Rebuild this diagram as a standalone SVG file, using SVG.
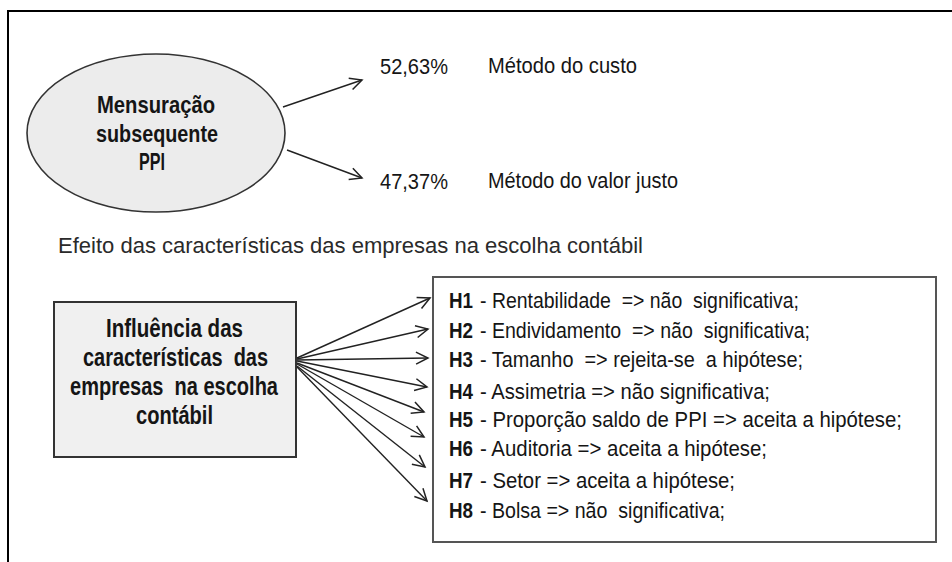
<svg xmlns="http://www.w3.org/2000/svg" width="952" height="562" viewBox="0 0 952 562">
<style>
text{font-family:"Liberation Sans Narrow","Liberation Sans",Arial,sans-serif;fill:#151515}
.b{font-weight:bold}
.r{font-size:22px}
.c{stroke:#222;stroke-width:1.4;fill:none}
</style>
<defs>
<marker id="ah" markerUnits="userSpaceOnUse" markerWidth="16" markerHeight="16" refX="13" refY="7" orient="auto" viewBox="0 0 16 14">
<path d="M1,1 L13,7 L1,13" fill="none" stroke="#222" stroke-width="1.5"/>
</marker>
</defs>
<rect width="952" height="562" fill="#fff"/>
<path d="M8,562 L8,11 L952,11" fill="none" stroke="#000" stroke-width="2"/>
<g id="ellipse-node">
<ellipse cx="156" cy="133" rx="129" ry="79" fill="#ececec" stroke="#333" stroke-width="1.6"/>
<text class="b" font-size="24" x="97" y="113" textLength="118" lengthAdjust="spacingAndGlyphs">Mensuração</text>
<text class="b" font-size="24" x="96" y="142" textLength="122" lengthAdjust="spacingAndGlyphs">subsequente</text>
<text class="b" font-size="24" x="139" y="170" textLength="26" lengthAdjust="spacingAndGlyphs">PPI</text>
</g>
<g id="label-custo">
<text class="r" font-size="24" x="380" y="74" textLength="68" lengthAdjust="spacingAndGlyphs">52,63%</text>
<text class="r" font-size="23" x="488" y="73" textLength="149" lengthAdjust="spacingAndGlyphs">Método do custo</text>
</g>
<g id="label-valor">
<text class="r" font-size="24" x="380" y="189" textLength="68" lengthAdjust="spacingAndGlyphs">47,37%</text>
<text class="r" font-size="23" x="488" y="188" textLength="190" lengthAdjust="spacingAndGlyphs">Método do valor justo</text>
</g>
<g id="title">
<text class="r" font-size="21" x="58" y="253" textLength="585" lengthAdjust="spacingAndGlyphs" style="fill:#2a2a2a">Efeito das características das empresas na escolha contábil</text>
</g>
<g id="influence-node">
<rect x="54" y="302" width="242" height="155" fill="#f0f0f0" stroke="#333" stroke-width="2"/>
<text class="b" font-size="26" x="106" y="337" textLength="137" lengthAdjust="spacingAndGlyphs">Influência das</text>
<text class="b" font-size="26" x="83" y="366" textLength="185" lengthAdjust="spacingAndGlyphs" xml:space="preserve">características  das</text>
<text class="b" font-size="26" x="70" y="395" textLength="208" lengthAdjust="spacingAndGlyphs" xml:space="preserve">empresas  na escolha</text>
<text class="b" font-size="26" x="136" y="424" textLength="77" lengthAdjust="spacingAndGlyphs">contábil</text>
</g>
<g id="hypotheses-node">
<rect x="433" y="277" width="503" height="265" fill="#fff" stroke="#555" stroke-width="2"/>
<text class="r b" x="449" y="308" textLength="24" lengthAdjust="spacingAndGlyphs">H1</text>
<text class="r" x="480" y="308" textLength="319" lengthAdjust="spacingAndGlyphs" xml:space="preserve">- Rentabilidade  =&gt; não  significativa;</text>
<text class="r b" x="449" y="338" textLength="24" lengthAdjust="spacingAndGlyphs">H2</text>
<text class="r" x="480" y="338" textLength="330" lengthAdjust="spacingAndGlyphs" xml:space="preserve">- Endividamento  =&gt; não  significativa;</text>
<text class="r b" x="449" y="367" textLength="24" lengthAdjust="spacingAndGlyphs">H3</text>
<text class="r" x="480" y="367" textLength="323" lengthAdjust="spacingAndGlyphs" xml:space="preserve">- Tamanho  =&gt; rejeita-se  a hipótese;</text>
<text class="r b" x="449" y="399" textLength="24" lengthAdjust="spacingAndGlyphs">H4</text>
<text class="r" x="480" y="399" textLength="290" lengthAdjust="spacingAndGlyphs">- Assimetria =&gt; não significativa;</text>
<text class="r b" x="449" y="427" textLength="24" lengthAdjust="spacingAndGlyphs">H5</text>
<text class="r" x="480" y="427" textLength="422" lengthAdjust="spacingAndGlyphs">- Proporção saldo de PPI =&gt; aceita a hipótese;</text>
<text class="r b" x="449" y="456" textLength="24" lengthAdjust="spacingAndGlyphs">H6</text>
<text class="r" x="480" y="456" textLength="287" lengthAdjust="spacingAndGlyphs">- Auditoria =&gt; aceita a hipótese;</text>
<text class="r b" x="449" y="488" textLength="24" lengthAdjust="spacingAndGlyphs">H7</text>
<text class="r" x="480" y="488" textLength="255" lengthAdjust="spacingAndGlyphs">- Setor =&gt; aceita a hipótese;</text>
<text class="r b" x="449" y="518" textLength="24" lengthAdjust="spacingAndGlyphs">H8</text>
<text class="r" x="480" y="518" textLength="245" lengthAdjust="spacingAndGlyphs" xml:space="preserve">- Bolsa =&gt; não  significativa;</text>
</g>
<g id="connectors">
<line class="c" x1="283" y1="107" x2="362" y2="80" marker-end="url(#ah)"/>
<line class="c" x1="287" y1="150" x2="362" y2="178" marker-end="url(#ah)"/>
<line class="c" x1="297" y1="358" x2="430" y2="298" marker-end="url(#ah)"/>
<line class="c" x1="297" y1="359" x2="428" y2="329" marker-end="url(#ah)"/>
<line class="c" x1="297" y1="360" x2="428" y2="358" marker-end="url(#ah)"/>
<line class="c" x1="297" y1="361" x2="427" y2="387" marker-end="url(#ah)"/>
<line class="c" x1="297" y1="363" x2="424" y2="412" marker-end="url(#ah)"/>
<line class="c" x1="297" y1="364" x2="424" y2="437" marker-end="url(#ah)"/>
<line class="c" x1="297" y1="366" x2="425" y2="467" marker-end="url(#ah)"/>
<line class="c" x1="297" y1="367" x2="427" y2="501" marker-end="url(#ah)"/>
</g>
</svg>
